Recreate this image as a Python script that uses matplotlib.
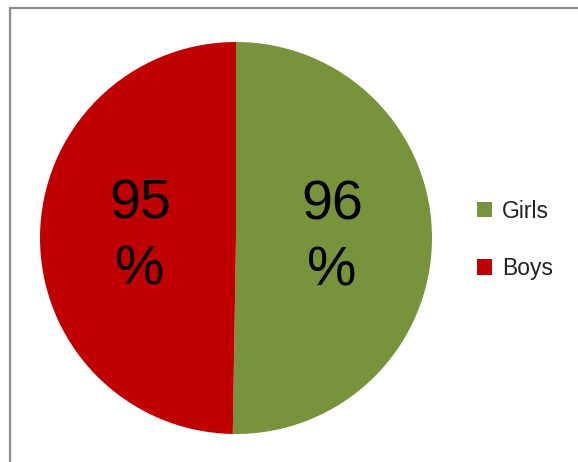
import matplotlib.pyplot as plt
from matplotlib.patches import Rectangle

labels = ["Girls", "Boys"]
values = [96, 95]
colors = ["#77933C", "#C00000"]

W, H = 578, 462
fig = plt.figure(figsize=(W / 100, H / 100), dpi=100)

# grey chart frame (runs off the right and bottom edges)
fig.patches.append(Rectangle((10 / W, -0.1), 1.2, (H - 8) / H + 0.1,
                             transform=fig.transFigure, fill=False,
                             edgecolor="#8C8C8C", linewidth=1.6))

ax = fig.add_axes([40 / W, 28 / H, 392 / W, 392 / H])
wedges, texts = ax.pie(values, colors=colors, startangle=90, counterclock=False,
                       labels=[f"{v}\n%" for v in values], labeldistance=0.49,
                       textprops=dict(fontsize=40, family="Liberation Sans",
                                      color="black", linespacing=1.35,
                                      ha="center", va="center"))
for t in texts:
    t.set_horizontalalignment("center")
ax.set_xlim(-1, 1)
ax.set_ylim(-1, 1)
ax.set_aspect("equal")

leg = fig.legend(wedges, labels, loc="center left",
                 bbox_to_anchor=(456 / W, (H - 240) / H), frameon=False,
                 handlelength=0.65, handleheight=0.65, handletextpad=0.45,
                 labelspacing=1.5, prop=dict(family="Liberation Sans", size=16.5))
for t in leg.get_texts():
    t.set_color("#222222")

fig.savefig("out.png", dpi=100)
